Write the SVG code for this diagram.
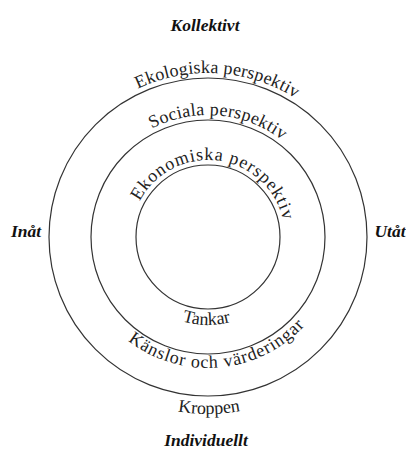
<svg xmlns="http://www.w3.org/2000/svg" xmlns:xlink="http://www.w3.org/1999/xlink" width="406" height="450" viewBox="0 0 406 450">
<style>
.ring{fill:none;stroke:#333;stroke-width:1.2}
.lbl{font-family:"Liberation Serif","Times New Roman",serif;font-size:18px;fill:#222}
.axis{font-family:"Liberation Serif","Times New Roman",serif;font-size:17.5px;font-weight:bold;font-style:italic;fill:#111}
</style>
<defs>
<path id="pOuterTop" d="M 44 237 A 164 164 0 0 1 372 237"/>
<path id="pMidTop" d="M 86 237 A 122 122 0 0 1 330 237"/>
<path id="pInTop" d="M 131 237 A 77 77 0 0 1 285 237"/>
<path id="pMidBot" d="M 77 237 A 131 131 0 0 0 339 237"/>
<path id="pInBot" d="M 120 237 A 88 88 0 0 0 296 237"/>
<path id="pOuterBot" d="M 31 237 A 177 177 0 0 0 385 237"/>
</defs>
<g id="connectors"></g>
<g id="outer">
<circle class="ring" cx="208" cy="237" r="159"/>
<text class="lbl" text-anchor="middle" letter-spacing="0.2"><textPath xlink:href="#pOuterTop" href="#pOuterTop" startOffset="51.9%">Ekologiska perspektiv</textPath></text>
<text class="lbl" text-anchor="middle"><textPath xlink:href="#pOuterBot" href="#pOuterBot" startOffset="50.2%">Kroppen</textPath></text>
</g>
<g id="middle">
<circle class="ring" cx="208" cy="237" r="117"/>
<text class="lbl" text-anchor="middle" letter-spacing="0.3"><textPath xlink:href="#pMidTop" href="#pMidTop" startOffset="52.8%">Sociala perspektiv</textPath></text>
<text class="lbl" text-anchor="middle" letter-spacing="0.9"><textPath xlink:href="#pMidBot" href="#pMidBot" startOffset="52.8%">Känslor och värderingar</textPath></text>
</g>
<g id="inner">
<circle class="ring" cx="208" cy="237" r="72"/>
<text class="lbl" text-anchor="middle" letter-spacing="0.9"><textPath xlink:href="#pInTop" href="#pInTop" startOffset="54.3%">Ekonomiska perspektiv</textPath></text>
<text class="lbl" text-anchor="middle"><textPath xlink:href="#pInBot" href="#pInBot" startOffset="49.4%">Tankar</textPath></text>
</g>
<g id="axes">
<text class="axis" x="205" y="31" text-anchor="middle">Kollektivt</text>
<text class="axis" x="206" y="446" text-anchor="middle">Individuellt</text>
<text class="axis" x="26" y="237" text-anchor="middle">Inåt</text>
<text class="axis" x="390" y="237" text-anchor="middle">Utåt</text>
</g>
</svg>
